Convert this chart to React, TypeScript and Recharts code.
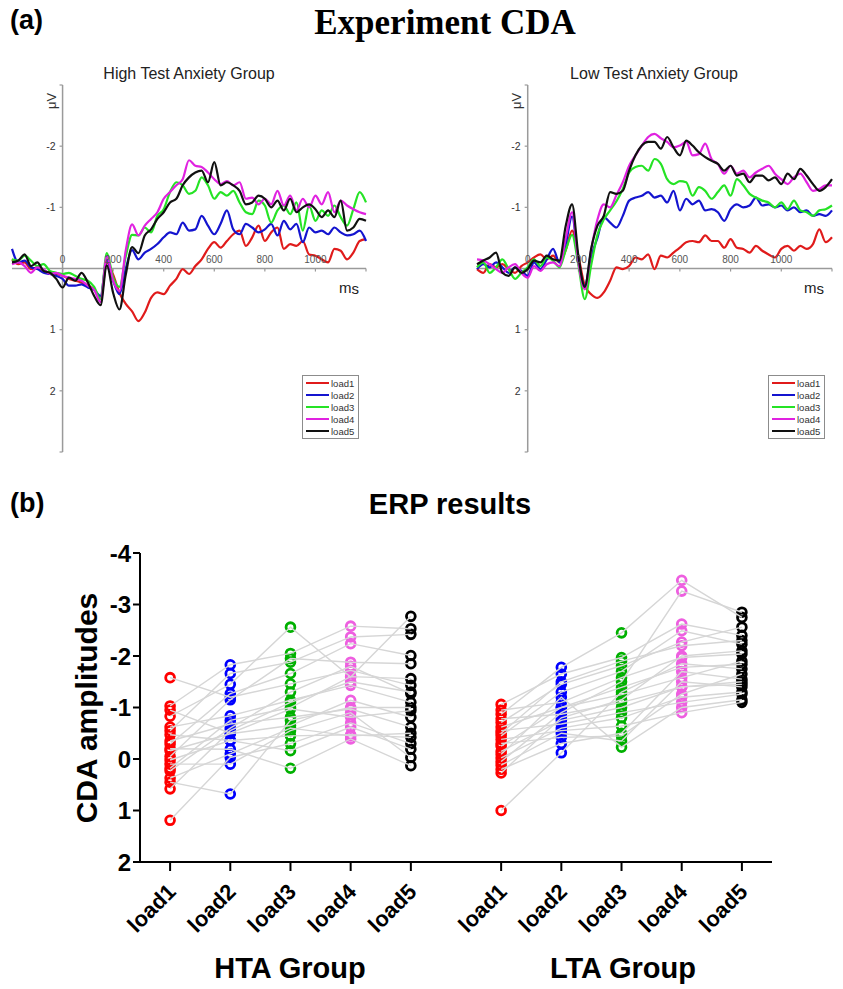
import React from 'react';
import { LineChart, Line, XAxis, YAxis, ReferenceLine, Legend, ScatterChart, Scatter } from 'recharts';

// ---------- panel (a): grand average ERP waveforms ----------
const times = [-200, -175, -150, -125, -100, -75, -50, -25, 0, 25, 50, 75, 100, 125, 150, 175, 200, 225, 250, 275, 300, 325, 350, 375, 400, 425, 450, 475, 500, 525, 550, 575, 600, 625, 650, 675, 700, 725, 750, 775, 800, 825, 850, 875, 900, 925, 950, 975, 1000, 1025, 1050, 1075, 1100, 1125, 1150, 1175, 1200];

const loadNames = ['load1', 'load2', 'load3', 'load4', 'load5'];
const erpColors = ['#e01b1b', '#1414cf', '#25e325', '#e022e0', '#111111'];

const htaWave1 = [-0.15, -0.07, -0.1, 0.01, -0.02, 0.04, 0.07, 0.09, 0.12, 0.17, 0.2, 0.23, 0.28, 0.34, 0.5, -0.1, 0.1, 0.4, 0.58, 0.7, 0.86, 0.72, 0.48, 0.39, 0.42, 0.28, 0.17, 0.01, 0.09, -0.04, -0.15, -0.32, -0.43, -0.34, -0.45, -0.56, -0.62, -0.37, -0.51, -0.7, -0.45, -0.59, -0.67, -0.32, -0.4, -0.37, -0.45, -0.23, -0.21, -0.15, -0.1, -0.32, -0.29, -0.15, -0.26, -0.45, -0.48];
const htaWave2 = [-0.32, -0.1, -0.13, -0.02, 0.01, 0.07, 0.09, 0.12, 0.17, 0.28, 0.28, 0.26, 0.31, 0.35, 0.45, -0.15, 0.2, 0.42, 0.0, -0.3, -0.15, -0.26, -0.32, -0.4, -0.51, -0.59, -0.56, -0.75, -0.62, -0.64, -0.86, -0.7, -0.56, -0.73, -0.95, -0.64, -0.56, -0.73, -0.67, -0.59, -0.64, -0.73, -0.54, -0.78, -0.64, -0.73, -0.43, -0.67, -0.59, -0.62, -0.56, -0.67, -0.59, -0.54, -0.56, -0.62, -0.45];
const htaWave3 = [-0.15, -0.13, -0.21, -0.13, -0.04, -0.07, 0.04, 0.07, 0.09, 0.07, 0.12, 0.17, 0.2, 0.3, 0.5, -0.25, 0.15, 0.3, -0.2, -0.55, -0.54, -0.67, -0.59, -0.86, -0.97, -1.25, -1.41, -1.36, -1.22, -1.27, -1.49, -1.36, -1.14, -1.25, -1.19, -1.27, -1.08, -0.92, -0.89, -1.11, -1.03, -0.75, -0.95, -1.03, -0.89, -1.08, -0.62, -1.03, -0.78, -0.95, -0.86, -1.03, -0.84, -0.7, -0.97, -1.25, -1.08];
const htaWave4 = [-0.07, -0.1, -0.04, 0.07, -0.02, 0.01, 0.09, 0.07, 0.12, 0.15, 0.17, 0.2, 0.28, 0.35, 0.55, -0.2, 0.2, 0.37, -0.3, -0.72, -0.54, -0.7, -0.81, -0.92, -1.14, -1.25, -1.36, -1.46, -1.77, -1.68, -1.66, -1.57, -1.46, -1.38, -1.43, -1.36, -1.41, -1.14, -1.16, -1.05, -1.14, -1.05, -1.27, -1.03, -1.19, -0.95, -1.14, -1.0, -1.19, -1.05, -1.25, -0.92, -1.11, -1.03, -0.97, -0.92, -0.89];
const htaWave5 = [-0.1, -0.13, -0.23, -0.04, -0.1, 0.04, 0.07, 0.17, 0.31, 0.15, 0.2, 0.07, 0.23, 0.45, 0.6, -0.05, 0.4, 0.67, 0.1, -0.35, -0.25, -0.54, -0.64, -0.81, -0.92, -1.08, -1.14, -1.36, -1.49, -1.57, -1.6, -1.41, -1.74, -1.36, -1.41, -1.36, -1.27, -1.05, -1.08, -1.19, -1.14, -1.0, -1.11, -0.95, -1.14, -0.92, -1.0, -1.05, -0.97, -0.84, -0.95, -0.84, -1.11, -0.62, -0.67, -0.81, -0.78];

const ltaWave1 = [0.01, 0.07, -0.07, -0.02, -0.07, 0.01, 0.07, -0.04, -0.1, -0.18, -0.23, -0.15, -0.21, -0.1, -0.3, -0.62, -0.2, 0.28, 0.42, 0.48, 0.39, 0.2, -0.02, 0.01, -0.04, -0.18, -0.15, -0.23, 0.01, -0.21, -0.18, -0.26, -0.34, -0.43, -0.45, -0.43, -0.54, -0.45, -0.45, -0.34, -0.48, -0.34, -0.32, -0.26, -0.37, -0.29, -0.23, -0.18, -0.32, -0.37, -0.29, -0.37, -0.32, -0.4, -0.64, -0.43, -0.51];
const ltaWave2 = [0.01, -0.07, -0.02, -0.1, -0.02, 0.07, -0.02, 0.04, 0.12, -0.1, 0.01, -0.15, -0.32, -0.1, -0.4, -0.85, -0.1, 0.28, -0.2, -0.5, -0.84, -0.75, -0.67, -0.86, -1.11, -1.16, -1.19, -1.25, -1.16, -1.19, -1.08, -1.27, -0.95, -1.14, -1.05, -1.11, -0.95, -0.97, -0.92, -0.78, -0.97, -1.05, -1.0, -1.03, -1.16, -1.03, -1.05, -1.0, -1.03, -0.95, -1.0, -0.92, -0.95, -0.86, -0.89, -0.86, -0.95];
const ltaWave3 = [-0.02, -0.1, 0.07, -0.02, -0.15, 0.01, 0.17, 0.07, -0.02, -0.15, -0.04, -0.18, -0.13, -0.02, -0.3, -0.55, -0.05, 0.5, -0.05, -0.55, -0.8, -0.95, -1.1, -1.3, -1.57, -1.66, -1.68, -1.6, -1.79, -1.71, -1.46, -1.38, -1.43, -1.41, -1.19, -1.33, -1.27, -1.14, -1.25, -1.36, -1.19, -1.46, -1.36, -1.22, -1.16, -1.11, -1.08, -1.0, -1.08, -0.97, -1.11, -0.95, -0.92, -0.86, -0.95, -0.97, -1.03];
const ltaWave4 = [-0.15, -0.13, -0.07, 0.01, 0.07, -0.02, -0.07, 0.07, 0.15, -0.04, 0.04, -0.07, -0.1, -0.04, -0.5, -0.92, -0.1, 0.34, -0.3, -0.8, -1.05, -1.0, -1.2, -1.41, -1.68, -1.85, -2.01, -2.15, -2.2, -2.13, -2.07, -1.98, -2.01, -2.07, -1.85, -1.87, -2.04, -1.79, -1.71, -1.55, -1.68, -1.55, -1.6, -1.49, -1.57, -1.63, -1.68, -1.55, -1.46, -1.38, -1.49, -1.55, -1.41, -1.27, -1.3, -1.36, -1.36];
const ltaWave5 = [-0.07, -0.13, -0.18, -0.26, 0.07, 0.12, -0.02, 0.07, 0.01, -0.13, -0.1, -0.21, -0.15, -0.13, -0.7, -1.05, -0.2, 0.3, -0.32, -0.7, -0.86, -1.25, -1.22, -1.27, -1.6, -1.85, -2.01, -2.07, -2.07, -1.96, -2.15, -1.98, -1.85, -2.09, -2.01, -1.9, -1.82, -1.76, -1.71, -1.6, -1.68, -1.52, -1.55, -1.41, -1.52, -1.52, -1.44, -1.49, -1.38, -1.55, -1.46, -1.63, -1.52, -1.38, -1.27, -1.33, -1.46];

const erpYTicks = [-3, -2, -1, 1, 2, 3];
const erpXTicks = [0, 200, 400, 600, 800, 1000, 1200];

// ---------- panel (b): individual CDA amplitudes (one value per subject) ----------
const htaAmp1 = [-1.58, -1.03, -0.95, -0.83, -0.62, -0.55, -0.47, -0.35, -0.29, -0.2, -0.16, -0.05, 0.02, 0.1, 0.18, 0.23, 0.37, 0.45, 0.58, 1.19];
const htaAmp2 = [-1.2, -1.83, -0.5, -1.45, -0.84, -1.66, -0.36, -0.68, -1.27, -0.19, -0.49, -1.15, -0.36, 0.1, -0.75, -0.6, -0.1, 0.68, -0.55, -0.03];
const htaAmp3 = [-1.46, -2.05, -0.97, -2.56, -1.14, -1.88, -0.45, -0.81, -1.66, 0.18, -0.65, -1.95, -0.16, -0.55, -1.0, -1.3, -0.6, -0.75, -1.1, -0.3];
const htaAmp4 = [-1.72, -2.58, -0.81, -1.59, -1.43, -2.37, -0.47, -0.97, -2.24, -0.39, -1.14, -1.88, -0.62, -0.9, -1.6, -1.8, -0.45, -1.0, -1.5, -0.7];
const htaAmp5 = [-1.43, -2.53, -0.94, -2.77, -1.1, -2.42, -0.42, -0.62, -2.01, 0.13, -0.81, -1.85, -0.19, -0.03, -1.56, -1.27, -0.5, -1.0, -1.3, -0.3];

const ltaAmp1 = [-1.06, -0.95, -0.87, -0.78, -0.71, -0.62, -0.55, -0.45, -0.38, -0.3, -0.25, -0.15, -0.09, -0.02, 0.05, 0.12, 0.2, 0.27, -0.5, 1.0];
const ltaAmp2 = [-1.65, -1.1, -1.78, -0.87, -1.45, -1.0, -0.68, -1.3, -0.55, -0.42, -1.0, -0.75, -1.2, -0.6, -0.9, -0.5, -0.3, -0.8, -1.5, -0.12];
const ltaAmp3 = [-1.97, -1.58, -2.45, -1.1, -1.81, -1.39, -0.9, -1.7, -0.64, -0.45, -1.25, -1.0, -0.23, -0.8, -1.5, -0.35, -0.5, -1.15, -1.9, -1.3];
const ltaAmp4 = [-2.62, -1.97, -3.47, -1.4, -2.27, -1.78, -1.1, -2.49, -0.9, -1.26, -1.58, -1.4, -1.0, -1.2, -3.26, -1.5, -1.7, -2.0, -2.2, -1.85];
const ltaAmp5 = [-2.4, -2.04, -2.75, -1.45, -2.56, -1.84, -1.26, -2.23, -1.1, -1.65, -1.9, -1.5, -1.15, -1.3, -2.85, -1.4, -1.55, -2.1, -2.3, -1.75];

const groupNames = ['HTA Group', 'LTA Group'];
const groupOffsets = [1, 6.5];
const ampColors = ['#ff0000', '#0000ff', '#00b000', '#ee5fe0', '#000000'];
const ampYTicks = [-4, -3, -2, -1, 0, 1, 2];

const FONT = "'Liberation Sans', Arial, Helvetica, sans-serif";

function Txt({ x, y, size, children, bold, center, rotate, color, family }: any) {
  const tf = [center ? 'translateX(-50%)' : '', rotate ? `translate(-50%, -50%) rotate(${rotate}deg)` : ''].join(' ');
  return (
    <div style={{
      position: 'absolute', left: x, top: y, fontSize: size, lineHeight: `${size}px`,
      fontWeight: bold ? 'bold' : 'normal', whiteSpace: 'nowrap', color: color || '#000',
      fontFamily: family || FONT, transform: tf,
    }}>{children}</div>
  );
}

function LegendBox({ payload }: any) {
  return (
    <div style={{ border: '1px solid #8c8c8c', background: '#fff', padding: '1px 3px', width: 49, fontFamily: FONT }}>
      {(payload || []).map((p: any) => (
        <div key={p.value} style={{ display: 'flex', alignItems: 'center', height: 12 }}>
          <span style={{ display: 'inline-block', width: 23, height: 2.5, background: p.color, marginRight: 2 }} />
          <span style={{ fontSize: 9.5, color: '#333' }}>{p.value}</span>
        </div>
      ))}
    </div>
  );
}

function ErpPanel({ series, left, width, margin, legendLeft }: any) {
  const data = times.map((t, i) => {
    const row: any = { t };
    loadNames.forEach((n, k) => { row[n] = series[k][i]; });
    return row;
  });
  return (
    <div style={{ position: 'absolute', left, top: 60 }}>
      <LineChart width={width} height={400} data={data} margin={margin}>
        <XAxis dataKey="t" type="number" domain={[-200, 1200]} hide />
        <YAxis type="number" domain={[-3, 3]} reversed hide />
        <ReferenceLine y={0} stroke="#9a9a9a" strokeWidth={1.5} />
        <ReferenceLine segment={[{ x: 0, y: -3 }, { x: 0, y: 3 }]} stroke="#9a9a9a" strokeWidth={1.5} />
        {erpYTicks.map((v) => (
          <ReferenceLine key={'y' + v} segment={[{ x: -12, y: v }, { x: 0, y: v }]} stroke="#9a9a9a" strokeWidth={1.2}
            label={Math.abs(v) < 3 ? { value: String(v), position: 'left', offset: 4, fontSize: 10.5, fill: '#333', fontFamily: FONT } : undefined} />
        ))}
        {erpXTicks.map((v) => (
          <ReferenceLine key={'x' + v} segment={[{ x: v, y: 0 }, { x: v, y: 0.05 }]} stroke="#9a9a9a" strokeWidth={1.2}
            label={v < 1200 ? { value: String(v), position: 'top', offset: 6, fontSize: 10, fill: '#555', fontFamily: FONT } : undefined} />
        ))}
        {loadNames.map((n, k) => (
          <Line key={n} dataKey={n} name={n} stroke={erpColors[k]} strokeWidth={2.2} dot={false} type="monotone" isAnimationActive={false} />
        ))}
        <Legend layout="vertical" align="center" verticalAlign="middle" content={<LegendBox />}
          wrapperStyle={{ left: legendLeft, top: 315, width: 'auto', height: 'auto' }} />
      </LineChart>
    </div>
  );
}

function LoadTick(props: any) {
  const { x, y, payload } = props;
  const idx = Math.round((payload.value - 1) % 5.5);
  const ax = x + 7;
  const ay = y + 20;
  return (
    <text x={ax} y={ay} transform={`rotate(-45 ${ax} ${ay})`} textAnchor="end" fontSize={22} fontWeight="bold" fill="#000" fontFamily={FONT}>
      {loadNames[idx]}
    </text>
  );
}

function ringShape(color: string) {
  return (p: any) => <circle cx={p.cx} cy={p.cy} r={4.4} fill="none" stroke={color} strokeWidth={2.8} />;
}

const emptyShape = () => <g />;

function AmplitudePanel() {
  const groups = [
    [htaAmp1, htaAmp2, htaAmp3, htaAmp4, htaAmp5],
    [ltaAmp1, ltaAmp2, ltaAmp3, ltaAmp4, ltaAmp5],
  ];
  const tickPos: number[] = [];
  groupOffsets.forEach((o) => loadNames.forEach((_, l) => tickPos.push(o + l)));

  const rings: any[] = [];
  const links: any[] = [];
  groups.forEach((loads, g) => {
    loads.forEach((vals, l) => {
      rings.push(
        <Scatter key={`r${g}${l}`} data={vals.map((v) => ({ x: groupOffsets[g] + l, y: v }))}
          shape={ringShape(ampColors[l])} isAnimationActive={false} />
      );
    });
    loads[0].forEach((_, s) => {
      links.push(
        <Scatter key={`s${g}-${s}`} data={loads.map((vals, l) => ({ x: groupOffsets[g] + l, y: vals[s] }))}
          line={{ stroke: '#d6d6d6', strokeWidth: 1.4 }} shape={emptyShape} isAnimationActive={false} />
      );
    });
  });

  return (
    <div style={{ position: 'absolute', left: 0, top: 520 }}>
      <ScatterChart width={843} height={469} margin={{ top: 33, right: 71, bottom: 0, left: 80 }}>
        <XAxis dataKey="x" type="number" domain={[0.5, 11]} ticks={tickPos} interval={0} height={127}
          axisLine={{ stroke: '#000', strokeWidth: 2 }} tickLine={{ stroke: '#000', strokeWidth: 2 }} tickSize={9}
          tick={<LoadTick />} />
        <YAxis dataKey="y" type="number" domain={[-4, 2]} reversed ticks={ampYTicks} width={60} interval={0}
          axisLine={{ stroke: '#000', strokeWidth: 2 }} tickLine={{ stroke: '#000', strokeWidth: 2 }} tickSize={7}
          tick={{ fontSize: 24, fontWeight: 'bold', fill: '#000', fontFamily: FONT }} />
        {rings}
        {links}
      </ScatterChart>
    </div>
  );
}

export default function App() {
  return (
    <div style={{ position: 'absolute', left: 0, top: 0, width: 843, height: 989, background: '#fff', overflow: 'hidden', fontFamily: FONT }}>
      <Txt x={10} y={7} size={27} bold>(a)</Txt>
      <Txt x={445} y={5} size={35} bold center family="'Liberation Serif', 'Times New Roman', serif">Experiment CDA</Txt>
      <Txt x={189} y={66} size={16} center color="#222">High Test Anxiety Group</Txt>
      <Txt x={654} y={66} size={16} center color="#222">Low Test Anxiety Group</Txt>

      <ErpPanel series={[htaWave1, htaWave2, htaWave3, htaWave4, htaWave5]} left={0} width={420}
        margin={{ top: 25, right: 54, bottom: 8, left: 12 }} legendLeft={302} />
      <ErpPanel series={[ltaWave1, ltaWave2, ltaWave3, ltaWave4, ltaWave5]} left={420} width={423}
        margin={{ top: 25, right: 11, bottom: 8, left: 57 }} legendLeft={348} />

      <Txt x={51} y={101} size={13} rotate={-90} color="#333">μV</Txt>
      <Txt x={516} y={101} size={13} rotate={-90} color="#333">μV</Txt>
      <Txt x={349} y={288} size={15} rotate={0.001} color="#222">ms</Txt>
      <Txt x={814} y={288} size={15} rotate={0.001} color="#222">ms</Txt>

      <Txt x={10} y={490} size={27} bold>(b)</Txt>
      <Txt x={450} y={490} size={29} bold center>ERP results</Txt>

      <AmplitudePanel />

      <Txt x={87} y={708} size={30} bold rotate={-90}>CDA amplitudes</Txt>
      <Txt x={290} y={954} size={29} bold center>{groupNames[0]}</Txt>
      <Txt x={623} y={954} size={29} bold center>{groupNames[1]}</Txt>
    </div>
  );
}
